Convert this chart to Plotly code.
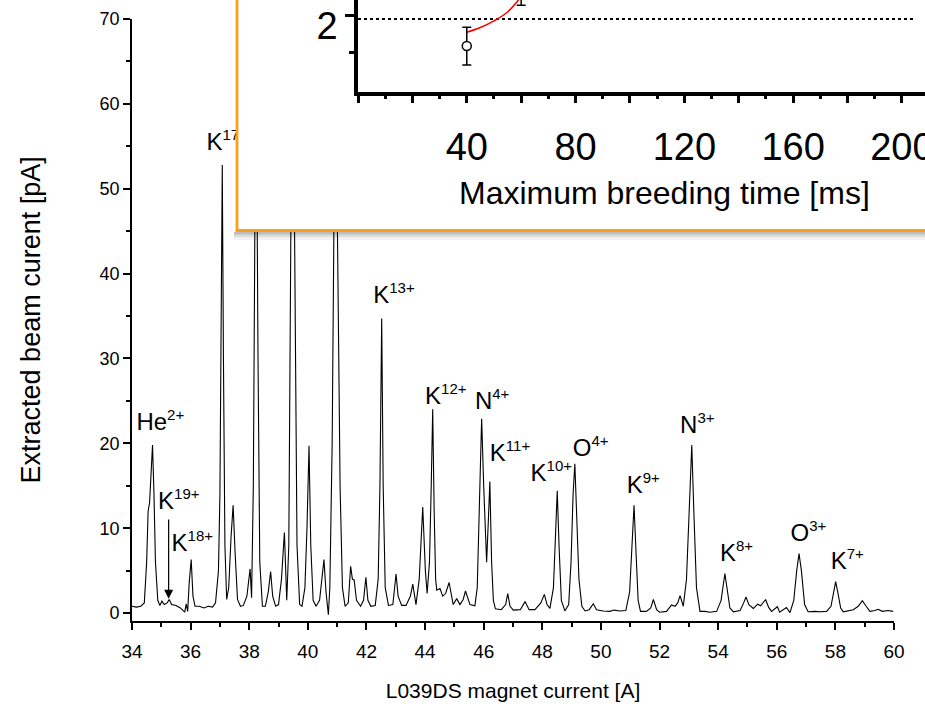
import plotly.graph_objects as go

# ---------------------------------------------------------------
# Charge-state spectrum: L039DS magnet current [A] vs beam current [pA]
# ---------------------------------------------------------------
mag_current = [
    34.00, 34.15, 34.30, 34.42, 34.50, 34.55, 34.60, 34.65, 34.70, 34.75,
    34.80, 34.88, 34.95, 35.02, 35.10, 35.20, 35.27, 35.35, 35.50, 35.65,
    35.75, 35.80, 35.85, 35.90, 35.95, 36.02, 36.08, 36.15, 36.30, 36.45,
    36.60, 36.75, 36.85, 36.95, 37.00, 37.04, 37.08, 37.12, 37.17, 37.23,
    37.30, 37.38, 37.45, 37.52, 37.60, 37.70, 37.80, 37.92, 38.03, 38.08,
    38.14, 38.20, 38.24, 38.30, 38.36, 38.45, 38.55, 38.65, 38.73, 38.80,
    38.90, 39.00, 39.10, 39.20, 39.28, 39.35, 39.42, 39.50, 39.56, 39.63,
    39.72, 39.80, 39.90, 39.97, 40.04, 40.10, 40.18, 40.28, 40.40, 40.48,
    40.55, 40.62, 40.70, 40.75, 40.83, 40.90, 40.95, 41.01, 41.05, 41.10,
    41.18, 41.27, 41.38, 41.46, 41.52, 41.58, 41.66, 41.80, 41.90, 41.98,
    42.05, 42.15, 42.30, 42.40, 42.46, 42.52, 42.57, 42.64, 42.75, 42.90,
    43.01, 43.08, 43.20, 43.35, 43.50, 43.58, 43.69, 43.80, 43.92, 44.01,
    44.07, 44.15, 44.21, 44.26, 44.31, 44.36, 44.40, 44.51, 44.60, 44.70,
    44.82, 44.96, 45.08, 45.19, 45.30, 45.38, 45.53, 45.70, 45.78, 45.85,
    45.93, 46.00, 46.10, 46.16, 46.21, 46.27, 46.33, 46.40, 46.60, 46.75,
    46.82, 46.90, 47.01, 47.25, 47.41, 47.55, 47.75, 47.95, 48.07, 48.16,
    48.26, 48.38, 48.45, 48.51, 48.57, 48.65, 48.77, 48.90, 48.98, 49.05,
    49.11, 49.17, 49.25, 49.35, 49.46, 49.60, 49.74, 49.85, 50.08, 50.30,
    50.45, 50.65, 50.85, 50.98, 51.06, 51.13, 51.20, 51.27, 51.35, 51.55,
    51.70, 51.79, 51.90, 52.00, 52.24, 52.41, 52.53, 52.62, 52.70, 52.81,
    52.92, 53.00, 53.10, 53.17, 53.26, 53.38, 53.55, 53.72, 53.95, 54.10,
    54.17, 54.23, 54.30, 54.40, 54.52, 54.75, 54.87, 54.95, 55.05, 55.20,
    55.35, 55.45, 55.62, 55.72, 55.82, 56.02, 56.10, 56.33, 56.45, 56.58,
    56.68, 56.76, 56.84, 56.95, 57.07, 57.30, 57.48, 57.70, 57.85, 57.94,
    58.01, 58.08, 58.18, 58.27, 58.45, 58.61, 58.78, 58.92, 59.05, 59.18,
    59.35, 59.46, 59.60, 59.80, 59.97,
]
beam_current = [
    0.8, 0.7, 0.8, 1.2, 6.0, 12.0, 13.0, 16.5, 19.8, 14.0,
    6.0, 1.5, 0.9, 1.4, 1.0, 1.2, 1.6, 1.0, 0.9, 0.6,
    0.3, 0.1, 1.1, 0.2, 3.5, 6.3, 2.0, 0.8, 0.8, 0.6,
    0.8, 0.7, 1.2, 5.0, 14.0, 35.0, 52.8, 30.0, 8.0, 1.6,
    3.0, 9.0, 12.7, 7.0, 1.6, 0.8, 0.9, 2.0, 5.2, 1.8,
    15.0, 50.0, 64.0, 30.0, 6.0, 0.8, 0.8, 2.5, 4.9, 2.0,
    0.8, 1.0, 4.0, 9.5, 1.5, 8.0, 45.0, 66.0, 35.0, 8.0,
    1.0, 0.8, 3.0, 10.0, 19.7, 8.0, 1.5, 0.8, 1.5, 4.0,
    6.3, 2.5, -0.2, 3.0, 20.0, 50.0, 68.0, 45.0, 34.0, 15.0,
    3.0, 0.8, 1.2, 5.5, 4.0, 3.9, 1.5, 0.8, 1.5, 4.2,
    1.5, 0.8, 0.9, 4.0, 15.0, 34.7, 15.0, 3.0, 0.9, 1.0,
    4.6, 2.0, 0.9, 0.9, 2.0, 3.4, 1.0, 4.0, 12.5, 5.0,
    2.3, 6.0, 15.0, 24.0, 12.0, 4.0, 2.7, 2.9, 2.0, 2.3,
    3.6, 1.0, 1.7, 1.0, 1.6, 2.6, 1.0, 0.85, 3.0, 12.0,
    22.9, 15.0, 6.0, 11.0, 15.5, 6.0, 1.5, 0.5, 0.4, 1.0,
    2.3, 0.8, 0.35, 0.4, 1.35, 0.4, 0.4, 1.2, 2.2, 1.0,
    0.55, 3.0, 9.0, 14.4, 8.0, 1.5, 0.25, 1.0, 6.0, 14.0,
    17.6, 12.0, 4.0, 0.8, 0.25, 0.4, 1.1, 0.4, 0.25, 0.2,
    0.35, 0.25, 0.3, 2.5, 8.0, 12.7, 7.0, 1.5, 0.2, 0.2,
    0.6, 1.6, 0.4, 0.1, 0.2, 0.95, 0.8, 1.2, 2.05, 0.8,
    4.0, 12.0, 19.8, 12.0, 3.0, 0.2, 0.2, 0.1, 0.2, 1.5,
    3.5, 4.65, 3.0, 0.6, 0.15, 0.3, 1.2, 1.9, 1.0, 0.55,
    1.05, 0.85, 1.6, 0.7, 0.2, 0.75, 0.1, 0.65, 0.05, 1.5,
    5.0, 7.0, 5.0, 1.0, 0.15, 0.2, 0.15, 0.2, 0.8, 2.5,
    3.7, 2.5, 0.6, 0.15, 0.3, 0.4, 0.8, 1.45, 0.8, 0.2,
    0.3, 0.45, 0.2, 0.3, 0.2,
]

# Ion labels (text anchored at the lower-left corner)
peak_labels = [
    "He<sup>2+</sup>", "K<sup>19+</sup>", "K<sup>18+</sup>", "K<sup>17+</sup>",
    "K<sup>13+</sup>", "K<sup>12+</sup>", "N<sup>4+</sup>", "K<sup>11+</sup>",
    "K<sup>10+</sup>", "O<sup>4+</sup>", "K<sup>9+</sup>", "N<sup>3+</sup>",
    "K<sup>8+</sup>", "O<sup>3+</sup>", "K<sup>7+</sup>",
]
label_x = [34.15, 34.89, 35.35, 36.54, 42.23, 44.00, 45.70, 46.21,
           47.60, 49.04, 50.88, 52.70, 54.06, 56.47, 57.84]
label_y = [20.9, 11.55, 6.6, 53.85, 35.79, 23.92, 23.3, 17.24,
           14.88, 17.79, 13.4, 20.47, 5.46, 7.81, 4.51]

# K19+ marker arrow (tip on the small peak, tail below the label)
arrow_x = 35.25
arrow_tip_y = 1.7
arrow_tail_y = 11.2

# ---------------------------------------------------------------
# Inset: ratio vs maximum breeding time
# ---------------------------------------------------------------
breeding_time = [40, 60]
ratio = [1.59, 2.30]
ratio_err = [0.255, 0.16]
fit_time = [40, 45, 50, 55, 60]
fit_ratio = [1.776, 1.84, 1.93, 2.05, 2.26]
level_time = [0, 205]
level_ratio = [1.955, 1.955]

inset_xticks = [0, 20, 40, 60, 80, 100, 120, 140, 160, 180, 200]
inset_xticktext = ["", "", "40", "", "80", "", "120", "", "160", "", "200"]
inset_xminor = [10, 30, 50, 70, 90, 110, 130, 150, 170, 190]

# ---------------------------------------------------------------
W, H = 925, 714
FONT = "Liberation Sans, Arial, sans-serif"
ORANGE = "#F7A11A"


def px(x):
    return x / W


def py(y):
    return 1 - y / H


sup_labels = [t.replace("<sup>", "<sup><span style='font-size:15px'>")
              .replace("</sup>", "</span></sup>") for t in peak_labels]

fig = go.Figure()

# main spectrum
fig.add_trace(go.Scatter(
    x=mag_current, y=beam_current, mode="lines",
    line=dict(color="black", width=1.1),
    xaxis="x", yaxis="y", hoverinfo="skip",
))
fig.add_trace(go.Scatter(
    x=label_x, y=label_y, mode="text", text=sup_labels,
    textposition="top right",
    textfont=dict(family=FONT, size=24, color="black"),
    xaxis="x", yaxis="y", hoverinfo="skip",
))

# blank panel behind the inset (covers the spectrum underneath)
fig.add_trace(go.Scatter(
    x=[0.5], y=[0.5], mode="markers", marker=dict(opacity=0),
    xaxis="x2", yaxis="y2", hoverinfo="skip",
))

# inset traces
fig.add_trace(go.Scatter(
    x=level_time, y=level_ratio, mode="lines",
    line=dict(color="black", width=2, dash="dot"),
    xaxis="x3", yaxis="y3", hoverinfo="skip",
))
fig.add_trace(go.Scatter(
    x=fit_time, y=fit_ratio, mode="lines", line_shape="spline",
    line=dict(color="red", width=1.6),
    xaxis="x3", yaxis="y3", hoverinfo="skip",
))
fig.add_trace(go.Scatter(
    x=breeding_time, y=ratio, mode="markers",
    marker=dict(symbol="circle", size=9, color="white",
                line=dict(color="black", width=1.5)),
    error_y=dict(type="data", array=ratio_err, color="black",
                 thickness=1.5, width=4.5),
    xaxis="x3", yaxis="y3", hoverinfo="skip",
))

axis_common = dict(showgrid=False, zeroline=False, showline=True,
                   linecolor="black", ticks="outside", tickcolor="black",
                   automargin=False)

fig.update_layout(
    template="none",
    width=W, height=H,
    margin=dict(l=0, r=0, t=0, b=0, autoexpand=False),
    paper_bgcolor="white", plot_bgcolor="white",
    showlegend=False,
    font=dict(family=FONT, color="black"),
    xaxis=dict(
        **axis_common, domain=[px(132), px(894)], range=[34, 60], anchor="y",
        tickmode="linear", tick0=34, dtick=2, ticklen=7, tickwidth=1.5,
        linewidth=1.8, tickfont=dict(size=19), ticklabelstandoff=6,
        minor=dict(dtick=1, ticklen=4, tickwidth=1.5, ticks="outside",
                   tickcolor="black"),
        title=dict(text="L039DS magnet current [A]", font=dict(size=21),
                   standoff=22),
    ),
    yaxis=dict(
        **axis_common, domain=[py(620.7), py(19)], range=[-0.9, 70],
        anchor="x", tickmode="linear", tick0=0, dtick=10, ticklen=7,
        tickwidth=1.5, linewidth=1.8, tickfont=dict(size=18),
        minor=dict(dtick=5, ticklen=4, tickwidth=1.5, ticks="outside",
                   tickcolor="black"),
        title=dict(text="Extracted beam curent [pA]", font=dict(size=27),
                   standoff=51),
    ),
    xaxis2=dict(domain=[px(237), 1], range=[0, 1], anchor="y2",
                visible=False),
    yaxis2=dict(domain=[py(230.5), 1], range=[0, 1], anchor="x2",
                visible=False),
    xaxis3=dict(
        **axis_common, domain=[px(358), 1], range=[0, 208.5], anchor="y3",
        tickmode="array", tickvals=inset_xticks, ticktext=inset_xticktext,
        ticklen=8, tickwidth=3, linewidth=3.5, tickfont=dict(size=38),
        ticklabelstandoff=11, ticklabeloverflow="allow",
        minor=dict(tickmode="array", tickvals=inset_xminor, ticklen=4,
                   tickwidth=3, ticks="outside", tickcolor="black"),
    ),
    yaxis3=dict(
        **axis_common, domain=[py(91.7), 1], range=[0.973, 2.212],
        anchor="x3", tickmode="array", tickvals=[2], ticktext=["2"],
        ticklen=9, tickwidth=3, linewidth=3.5, tickfont=dict(size=38),
        ticklabelstandoff=0, ticklabelshift=10, ticklabeloverflow="allow",
        minor=dict(tickmode="array", tickvals=[1.5], ticklen=5,
                   tickwidth=3, ticks="outside", tickcolor="black"),
    ),
)

# inset frame with a soft shadow along its lower edge
shadow_bands = [(232.0, 234.5, 0.26), (234.5, 237.0, 0.14), (237.0, 240.0, 0.05)]
shapes = []
for y0, y1, a in shadow_bands:
    shapes.append(dict(type="rect", xref="paper", yref="paper",
                       x0=px(234), x1=1.02, y0=py(y1), y1=py(y0),
                       line=dict(width=0), fillcolor=f"rgba(0,0,0,{a})",
                       layer="above"))
shapes.append(dict(type="rect", xref="paper", yref="paper",
                   x0=px(237), x1=1.02, y0=py(230.5), y1=1.02,
                   line=dict(color=ORANGE, width=2.8),
                   fillcolor="rgba(0,0,0,0)", layer="above"))
fig.update_layout(shapes=shapes)

fig.update_layout(annotations=[
    dict(x=arrow_x, y=arrow_tip_y, ax=arrow_x, ay=arrow_tail_y,
         xref="x", yref="y", axref="x", ayref="y", text="",
         showarrow=True, arrowhead=2, arrowsize=1.5, arrowwidth=1.2,
         arrowcolor="black"),
    dict(x=px(664), y=py(193), xref="paper", yref="paper",
         text="Maximum breeding time [ms]", showarrow=False,
         font=dict(size=32, family=FONT, color="black"),
         xanchor="center", yanchor="middle"),
])

fig.write_html("out.html")
